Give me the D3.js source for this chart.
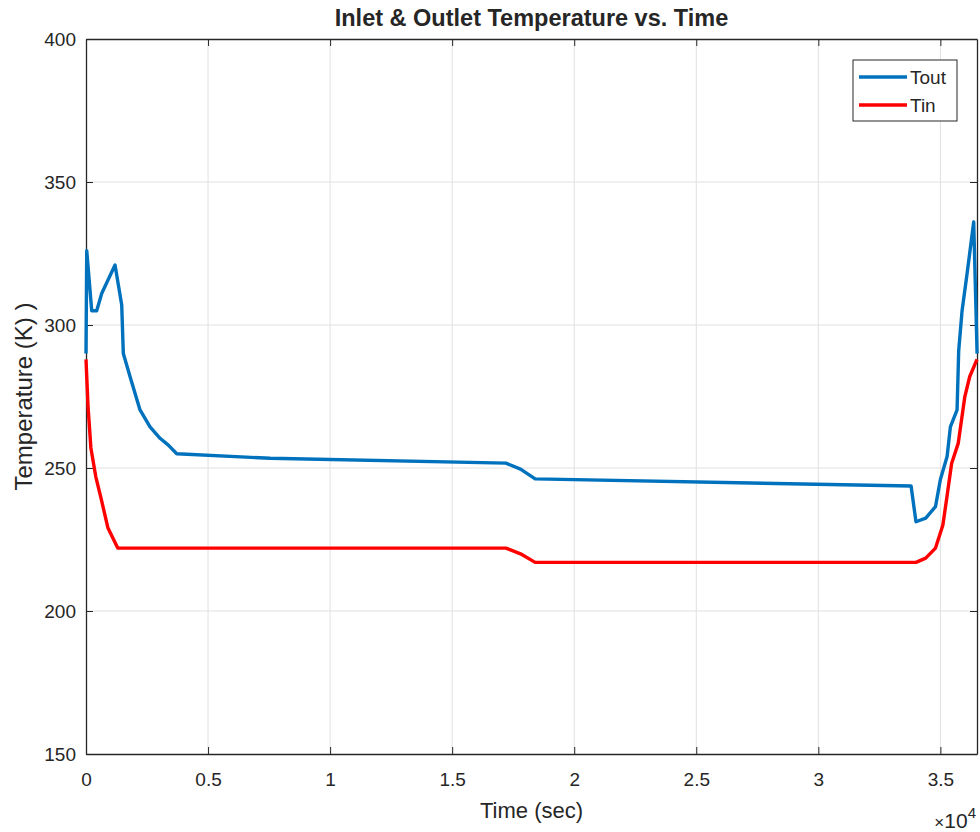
<!DOCTYPE html>
<html>
<head>
<meta charset="UTF-8" />
<script src="https://cdn.jsdelivr.net/npm/d3@7"></script>
<style>
  body { margin: 0; background: #fff; }
  text { font-family: "Liberation Sans", Arial, sans-serif; fill: #262626; }
</style>
</head>
<body>
<div id="app"></div>
<script>
// data (time in sec, temperature in K)
const toutTime = [0, 30, 234, 438, 643, 1189, 1463, 1529, 1803, 2213, 2623, 3033, 3373, 3717, 7541,
  17200, 17800, 18400, 33800, 34000, 34400, 34800, 35000, 35275, 35410, 35684, 35750, 35889, 36094, 36365, 36504];
const toutTemp = [290, 326, 305, 305, 311, 321, 307, 290, 282, 270.3, 264.4, 260.4, 258, 255, 253.4,
  251.7, 249.6, 246.2, 243.7, 231.2, 232.5, 236.5, 246, 254, 264.4, 270.3, 291, 305, 318, 336, 290];

const tinTime = [0, 80, 200, 400, 600, 900, 1300, 17200, 17800, 18400, 34000, 34400, 34800, 35100,
  35250, 35460, 35730, 36000, 36200, 36500];
const tinTemp = [288, 272, 257, 247, 240, 229, 222, 222, 220, 217, 217, 218.5, 222, 230,
  238.8, 251.6, 258.6, 274.9, 281.9, 288];

const xTicks = [0, 5000, 10000, 15000, 20000, 25000, 30000, 35000];
const yTicks = [150, 200, 250, 300, 350, 400];
const seriesNames = ["Tout", "Tin"];

const W = 980, H = 832;
const mL = 86, mR = 977, mT = 39, mB = 754;

const svg = d3.select("#app").append("svg")
  .attr("width", W).attr("height", H);

const x = d3.scaleLinear().domain([0, 36500]).range([mL, mR]);
const y = d3.scaleLinear().domain([150, 400]).range([mB, mT]);

// grid
svg.append("g").selectAll("line").data(xTicks.slice(1)).enter().append("line")
  .attr("x1", d => x(d)).attr("x2", d => x(d))
  .attr("y1", mT).attr("y2", mB)
  .attr("stroke", "#e0e0e0").attr("stroke-width", 1);
svg.append("g").selectAll("line").data(yTicks.slice(1, -1)).enter().append("line")
  .attr("x1", mL).attr("x2", mR)
  .attr("y1", d => y(d)).attr("y2", d => y(d))
  .attr("stroke", "#e0e0e0").attr("stroke-width", 1);

// axes (ticks inside, like matlab)
const fmtX = d => d3.format("~g")(d / 10000);
const xAxis = svg.append("g").attr("transform", "translate(0," + mB + ")")
  .call(d3.axisBottom(x).tickValues(xTicks).tickFormat(fmtX).tickSizeInner(-7).tickSizeOuter(0).tickPadding(19));
const xAxisTop = svg.append("g").attr("transform", "translate(0," + mT + ")")
  .call(d3.axisTop(x).tickValues(xTicks).tickFormat("").tickSizeInner(-7).tickSizeOuter(0));
const yAxis = svg.append("g").attr("transform", "translate(" + mL + ",0)")
  .call(d3.axisLeft(y).tickValues(yTicks).tickSizeInner(-7).tickSizeOuter(0).tickPadding(10));
const yAxisR = svg.append("g").attr("transform", "translate(" + mR + ",0)")
  .call(d3.axisRight(y).tickValues(yTicks).tickFormat("").tickSizeInner(-7).tickSizeOuter(0));

[xAxis, xAxisTop, yAxis, yAxisR].forEach(g => {
  g.select(".domain").attr("stroke", "#262626").attr("stroke-width", 1.3);
  g.selectAll(".tick line").attr("stroke", "#262626");
  g.selectAll("text").style("font-size", "19px").attr("fill", "#333");
});
xAxis.selectAll("text").attr("dy", "0.71em");

// lines
const line = d3.line().x(d => x(d[0])).y(d => y(d[1]));
svg.append("path").datum(toutTime.map((t, i) => [t, toutTemp[i]]))
  .attr("d", line).attr("fill", "none")
  .attr("stroke", "#0072BD").attr("stroke-width", 3.4).attr("stroke-linejoin", "round");
svg.append("path").datum(tinTime.map((t, i) => [t, tinTemp[i]]))
  .attr("d", line).attr("fill", "none")
  .attr("stroke", "#FF0000").attr("stroke-width", 3.4).attr("stroke-linejoin", "round");

// title & labels
svg.append("text").attr("x", (mL + mR) / 2).attr("y", 26)
  .attr("text-anchor", "middle").style("font-size", "23.5px").style("font-weight", "bold")
  .attr("fill", "#000").text("Inlet & Outlet Temperature vs. Time");
svg.append("text").attr("x", (mL + mR) / 2).attr("y", 818)
  .attr("text-anchor", "middle").style("font-size", "22px").attr("fill", "#333").text("Time (sec)");
svg.append("text").attr("transform", "translate(32," + ((mT + mB) / 2) + ") rotate(-90)")
  .attr("text-anchor", "middle").style("font-size", "24px").attr("fill", "#333")
  .text("Temperature (K) )");
const expo = svg.append("text").attr("x", 976).attr("y", 828).attr("text-anchor", "end")
  .style("font-size", "21px").attr("fill", "#333");
expo.append("tspan").style("font-size", "17px").text("\u00d7");
expo.append("tspan").text("10");
expo.append("tspan").attr("dy", "-10").style("font-size", "15px").text("4");

// legend
const lg = svg.append("g");
lg.append("rect").attr("x", 853).attr("y", 60).attr("width", 104).attr("height", 61)
  .attr("fill", "#fff").attr("stroke", "#262626").attr("stroke-width", 1);
const legColors = ["#0072BD", "#FF0000"];
seriesNames.forEach((n, i) => {
  const yy = 77 + i * 28;
  lg.append("line").attr("x1", 859).attr("x2", 907).attr("y1", yy).attr("y2", yy)
    .attr("stroke", legColors[i]).attr("stroke-width", 3.4);
  lg.append("text").attr("x", 910).attr("y", yy).attr("dy", "0.36em")
    .style("font-size", "19px").attr("fill", "#000").text(n);
});
</script>
</body>
</html>
